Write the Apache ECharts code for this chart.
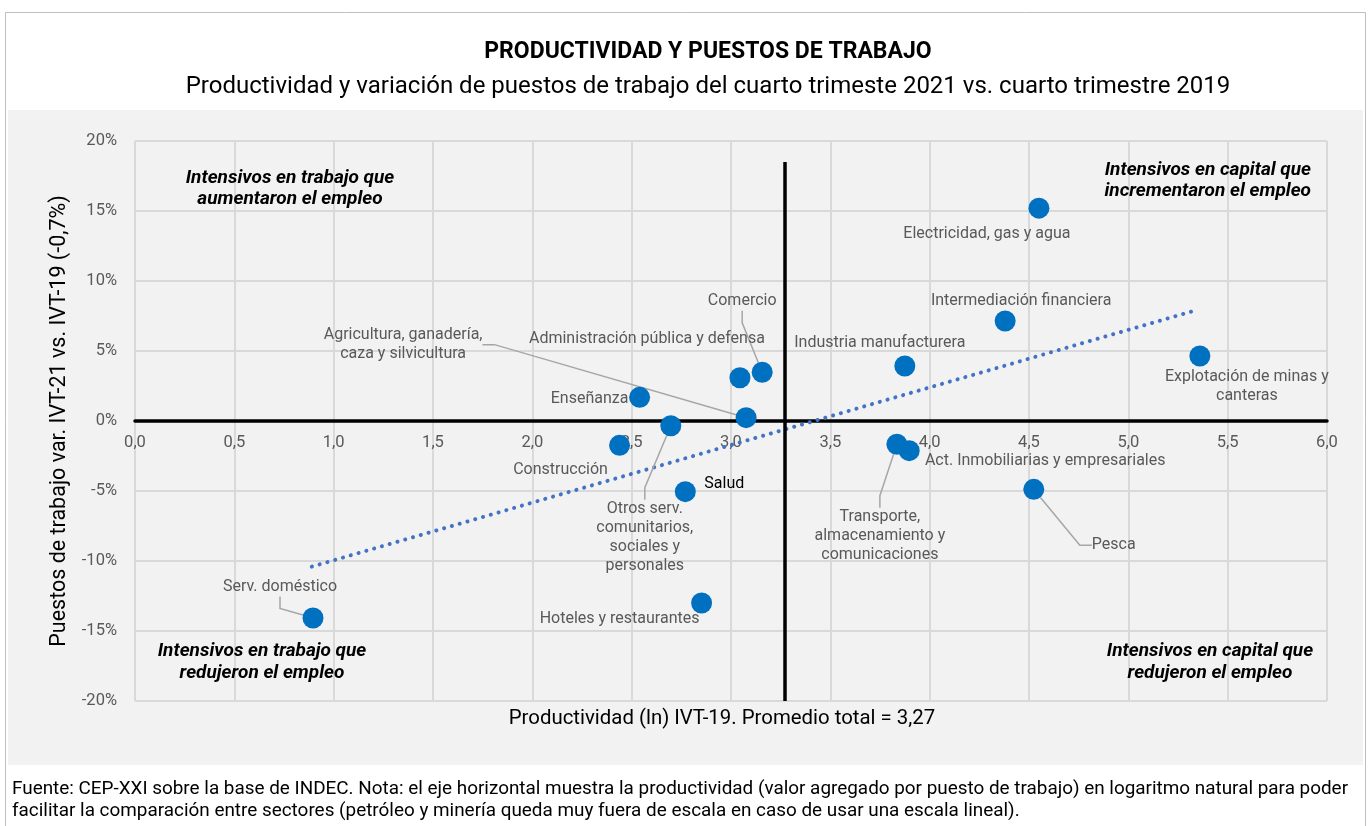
<!DOCTYPE html>
<html>
<head>
<meta charset="utf-8">
<script src="https://cdn.jsdelivr.net/npm/echarts@6/dist/echarts.min.js"></script>
<style>
html,body{margin:0;padding:0;background:#fff;}
#chart{width:1371px;height:826px;}
</style>
</head>
<body>
<div id="chart"></div>
<script>
// ---- data ----
const sectors = [
  "Electricidad, gas y agua",
  "Intermediación financiera",
  "Industria manufacturera",
  "Explotación de minas y\ncanteras",
  "Comercio",
  "Administración pública y defensa",
  "Agricultura, ganadería,\ncaza y silvicultura",
  "Enseñanza",
  "Construcción",
  "Salud",
  "Otros serv.\ncomunitarios,\nsociales y\npersonales",
  "Hoteles y restaurantes",
  "Serv. doméstico",
  "Transporte,\nalmacenamiento y\ncomunicaciones",
  "Act. Inmobiliarias y empresariales",
  "Pesca"
];
const productividad = [4.55, 4.38, 3.875, 5.36, 3.157, 3.045, 3.076, 2.54, 2.439, 2.77, 2.697, 2.852, 0.896, 3.835, 3.897, 4.524];
const variacionEmpleo = [15.2, 7.14, 3.93, 4.64, 3.48, 3.09, 0.24, 1.69, -1.74, -5.05, -0.34, -13.0, -14.07, -1.66, -2.12, -4.88];
const trendX = [0.89, 5.345];
const trendY = [-10.4, 7.93];
const promedioTotal = 3.27;
const promedioLineTop = 18.5;
const xTicks = ["0,0","0,5","1,0","1,5","2,0","2,5","3,0","3,5","4,0","4,5","5,0","5,5","6,0"];

// ---- label styling (pixel offsets of each label from its point) ----
const labelOffsets = [
  [-52, 26], [16, -20], [-25, -23], [47, 30], [-20, -71], [-93, -39],
  [-343, -73], [-50, 2], [-59, 25], [39, -8], [-26, 112], [-82, 16],
  [-33, -31], [-17, 92], [136, 10], [80, 56]
];
const withLeader = [false,false,false,false,true,false,true,false,false,false,true,false,true,true,false,true];

const chart = echarts.init(document.getElementById('chart'), null, {renderer:'canvas'});
const FONT = 'Roboto';

const scatterData = sectors.map((s, i) => ({
  name: s,
  value: [productividad[i], variacionEmpleo[i]],
  label: { color: s === 'Salud' ? '#000' : '#595959' },
  labelLine: { show: withLeader[i] }
}));

const qStyle = { font: 'italic bold 19px Roboto', fill: '#000', verticalAlign: 'middle', lineHeight: 21 };

const option = {
  animation: false,
  backgroundColor: '#fff',
  textStyle: { fontFamily: FONT },
  graphic: [
    { type: 'rect', z: -10, shape: { x: 5.5, y: 12.5, width: 1360, height: 830 }, style: { fill: '#fff', stroke: '#bfbfbf', lineWidth: 1 } },
    { type: 'rect', z: -9, shape: { x: 8, y: 110, width: 1355, height: 655 }, style: { fill: '#f2f2f2' } },
    { type: 'text', z: 100, x: 708, y: 52, style: { text: 'PRODUCTIVIDAD Y PUESTOS DE TRABAJO', font: 'bold 23px Roboto', fill: '#000', align: 'center', verticalAlign: 'middle' } },
    { type: 'text', z: 100, x: 708, y: 87, style: { text: 'Productividad y variación de puestos de trabajo del cuarto trimeste 2021 vs. cuarto trimestre 2019', font: '24px Roboto', fill: '#000', align: 'center', verticalAlign: 'middle' } },
    { type: 'text', z: 100, x: 722, y: 719, style: { text: 'Productividad (ln) IVT-19. Promedio total = 3,27', font: '20.4px Roboto', fill: '#000', align: 'center', verticalAlign: 'middle' } },
    { type: 'text', z: 100, x: 290, y: 189, style: Object.assign({ text: 'Intensivos en trabajo que\naumentaron el empleo', align: 'center' }, qStyle) },
    { type: 'text', z: 100, x: 1311, y: 181, style: Object.assign({ text: 'Intensivos en capital que\nincrementaron el empleo', align: 'right' }, qStyle) },
    { type: 'text', z: 100, x: 262, y: 662, style: Object.assign({ text: 'Intensivos en trabajo que\nredujeron el empleo', align: 'center' }, qStyle, { lineHeight: 22 }) },
    { type: 'text', z: 100, x: 1210, y: 662, style: Object.assign({ text: 'Intensivos en capital que\nredujeron el empleo', align: 'center' }, qStyle, { lineHeight: 22 }) },
    { type: 'text', z: 100, x: 12, y: 789, style: { text: 'Fuente: CEP-XXI sobre la base de INDEC. Nota: el eje horizontal muestra la productividad (valor agregado por puesto de trabajo) en logaritmo natural para poder', font: '18.9px Roboto', fill: '#000', align: 'left', verticalAlign: 'middle' } },
    { type: 'text', z: 100, x: 12, y: 811, style: { text: 'facilitar la comparación entre sectores (petróleo y minería queda muy fuera de escala en caso de usar una escala lineal).', font: '18.9px Roboto', fill: '#000', align: 'left', verticalAlign: 'middle' } }
  ],
  grid: { left: 135, right: 44, top: 141, bottom: 125, containLabel: false },
  xAxis: {
    type: 'value', min: 0, max: 6, interval: 0.5,
    axisLine: { show: true, onZero: true, lineStyle: { color: '#000', width: 3.5 } },
    axisTick: { show: false },
    axisLabel: { color: '#595959', fontSize: 16.5, margin: -267, formatter: v => xTicks[Math.round(v / 0.5)] },
    splitLine: { show: true, lineStyle: { color: '#d9d9d9', width: 2 } }
  },
  yAxis: {
    type: 'value', min: -20, max: 20, interval: 5,
    name: 'Puestos de trabajo var. IVT-21 vs. IVT-19 (-0,7%)',
    nameLocation: 'middle', nameGap: 62, nameRotate: 90,
    nameTextStyle: { fontSize: 21.5, color: '#000', fontFamily: FONT },
    axisLine: { show: false },
    axisTick: { show: false },
    axisLabel: { color: '#595959', fontSize: 16.5, margin: 18, formatter: '{value}%' },
    splitLine: { show: true, lineStyle: { color: '#d9d9d9', width: 2 } }
  },
  series: [
    {
      type: 'line', name: 'Tendencia',
      data: trendX.map((x, i) => [x, trendY[i]]),
      showSymbol: false, symbol: 'none',
      lineStyle: { color: '#4472c4', width: 4, type: [0.1, 8], cap: 'round' },
      z: 3,
      markLine: {
        silent: true, symbol: 'none',
        lineStyle: { color: '#000', width: 3.5, type: 'solid' },
        label: { show: false },
        data: [[ { coord: [promedioTotal, promedioLineTop] }, { coord: [promedioTotal, -20] } ]]
      }
    },
    {
      type: 'scatter', name: 'Sectores',
      data: scatterData,
      symbol: 'circle', symbolSize: 21,
      itemStyle: { color: '#0070c0', opacity: 1 },
      z: 5,
      label: {
        show: true, position: 'inside', formatter: '{b}',
        fontSize: 16, fontFamily: FONT, lineHeight: 19, align: 'center', verticalAlign: 'middle'
      },
      labelLine: { show: false, lineStyle: { color: '#a6a6a6', width: 1.5 }, length2: 12 },
      labelLayout: p => ({ dx: labelOffsets[p.dataIndex][0], dy: labelOffsets[p.dataIndex][1], hideOverlap: false })
    }
  ]
};
chart.setOption(option);
</script>
</body>
</html>
